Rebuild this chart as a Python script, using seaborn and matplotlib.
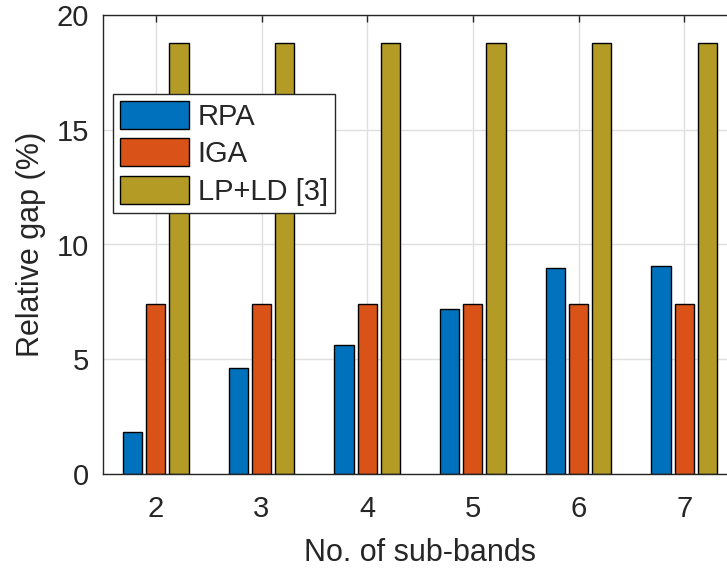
import pandas as pd
import matplotlib
matplotlib.use("Agg")
import matplotlib.pyplot as plt
import seaborn as sns

sub_bands = ["2", "3", "4", "5", "6", "7"]
rpa = [1.84, 4.63, 5.62, 7.2, 8.99, 9.05]
iga = [7.4, 7.4, 7.4, 7.4, 7.4, 7.4]
lpld = [18.78, 18.78, 18.78, 18.78, 18.78, 18.78]
methods = ["RPA", "IGA", "LP+LD [3]"]
colors = ["#0072BD", "#D95319", "#B39B26"]

df = pd.DataFrame({
    "band": sub_bands * 3,
    "gap": rpa + iga + lpld,
    "method": [m for m in methods for _ in sub_bands],
})

sns.set_style("white")
plt.rcParams["font.family"] = ["Liberation Sans", "DejaVu Sans"]

fig = plt.figure(figsize=(7.27, 5.71), dpi=100)
ax = fig.add_axes([103 / 727, 97 / 571, 634 / 727, 459 / 571])
sns.barplot(data=df, x="band", y="gap", hue="method", palette=colors,
            saturation=1, width=0.66, gap=0.17, edgecolor="black",
            linewidth=1.0, ax=ax)

ax.set_xlim(-0.5, 5.5)
ax.set_ylim(0, 20)
ax.set_yticks([0, 5, 10, 15, 20])
ax.grid(True, color="#DFDFDF", linewidth=1.0)
ax.set_axisbelow(True)
for s in ax.spines.values():
    s.set_color("#262626")
    s.set_linewidth(1.0)
ax.tick_params(axis="x", pad=15)
ax.tick_params(axis="both", direction="in", length=5, width=1.0,
               labelsize=21, colors="#262626", top=True, right=True)
ax.tick_params(axis="y", pad=10)
ax.set_xlabel("No. of sub-bands", fontsize=22, color="#262626", labelpad=11)
ax.set_ylabel("Relative gap (%)", fontsize=22, color="#262626", labelpad=8)

leg = ax.legend(loc="upper left", bbox_to_anchor=(10 / 634, 380 / 459),
                fontsize=21, frameon=True, fancybox=False, framealpha=1,
                edgecolor="#262626", handlelength=2.35, handleheight=1.1,
                labelspacing=0.25, borderpad=0.25, handletextpad=0.3,
                borderaxespad=0)
leg.get_frame().set_linewidth(1.0)

fig.savefig("out.png", dpi=100)
